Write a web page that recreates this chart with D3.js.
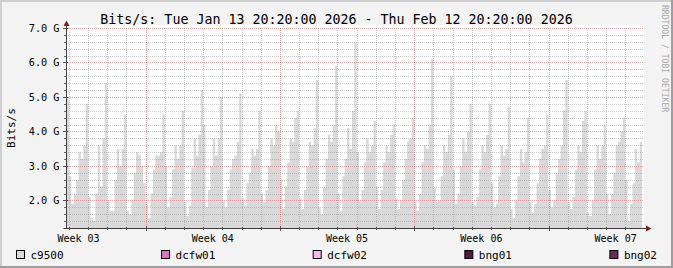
<!DOCTYPE html>
<html>
<head>
<meta charset="utf-8">
<script src="https://cdn.jsdelivr.net/npm/d3@7"></script>
<style>
  html, body { margin: 0; padding: 0; background: #f3f3f3; }
  svg { display: block; font-family: "DejaVu Sans Mono", monospace; }
</style>
</head>
<body>
<div id="chart"></div>
<script>
const WIDTH = 673
const HEIGHT = 268
const AREA_COLOR = '#d9d9d9'
const MINOR_GRID = 'rgba(128,128,128,0.4)'
const MAJOR_GRID = 'rgba(222,80,80,0.5)'
const ARROW_COLOR = '#7f1f1f'

// ---- data ----
const title = 'Bits/s: Tue Jan 13 20:20:00 2026 - Thu Feb 12 20:20:00 2026'
const rangeStart = new Date('2026-01-13T20:20:00Z')
const rangeEnd = new Date('2026-02-12T20:20:00Z')
// c9500, 3-hour averages (G bit/s) starting Jan 13 18:00
const seriesStart = new Date('2026-01-13T18:00:00Z')
const c9500 = [
  4.7, 5.0,
  2.7, 1.9, 2.2, 2.6, 3.4, 3.2, 3.6, 4.8,   // Jan 14
  2.1, 1.5, 1.4, 2.2, 3.6, 2.4, 3.8, 5.4,   // Jan 15
  2.0, 1.7, 1.7, 2.6, 3.5, 3.0, 3.5, 4.5,   // Jan 16
  1.7, 1.6, 2.0, 2.8, 3.4, 3.3, 3.0, 2.5,   // Jan 17
  1.9, 1.5, 2.2, 2.9, 3.3, 3.3, 3.4, 4.5,   // Jan 18
  3.0, 1.8, 2.1, 2.9, 3.6, 3.2, 3.6, 4.6,   // Jan 19
  1.95, 1.55, 1.85, 2.95, 3.8, 3.3, 3.9, 5.2, // Jan 20
  4.2, 1.8, 2.3, 3.0, 3.8, 3.3, 3.8, 5.0,   // Jan 21
  2.0, 1.8, 2.3, 2.9, 3.2, 3.3, 3.7, 5.1,   // Jan 22
  2.05, 1.85, 2.5, 2.8, 3.5, 3.3, 3.5, 4.6, // Jan 23
  2.2, 1.95, 2.3, 3.0, 3.8, 3.6, 4.2, 4.0,  // Jan 24
  2.6, 1.75, 2.4, 3.1, 3.8, 3.7, 4.4, 4.6,  // Jan 25
  2.05, 1.75, 2.3, 3.0, 3.7, 3.6, 4.1, 5.5, // Jan 26
  1.8, 1.6, 2.4, 3.2, 3.9, 3.7, 4.2, 5.9,   // Jan 27
  2.2, 1.7, 2.7, 3.2, 4.1, 3.5, 4.6, 6.6,   // Jan 28
  3.4, 2.0, 2.3, 3.1, 3.8, 3.4, 3.6, 4.3,   // Jan 29
  2.4, 1.75, 2.3, 3.1, 3.6, 3.4, 3.9, 4.2,  // Jan 30
  2.05, 1.75, 2.0, 2.6, 3.2, 3.7, 3.8, 4.4, // Jan 31
  1.95, 1.7, 2.2, 3.1, 3.6, 3.5, 4.2, 6.1,  // Feb 01
  2.35, 1.95, 2.0, 2.7, 3.6, 3.4, 3.9, 5.6, // Feb 02
  2.9, 1.9, 2.2, 3.0, 3.8, 3.4, 4.0, 4.8,   // Feb 03
  1.95, 1.85, 2.1, 2.9, 3.6, 3.4, 3.9, 4.8, // Feb 04
  2.5, 1.8, 1.9, 2.7, 3.6, 3.3, 3.5, 4.7,   // Feb 05
  1.75, 1.5, 2.0, 2.7, 3.5, 3.1, 3.4, 4.4,  // Feb 06
  1.95, 1.65, 1.9, 2.5, 3.2, 3.5, 3.6, 4.5, // Feb 07
  2.3, 1.8, 2.0, 2.8, 3.2, 3.6, 4.6, 5.5,   // Feb 08
  1.95, 1.75, 2.1, 2.9, 3.6, 3.4, 4.3, 4.6, // Feb 09
  1.65, 1.55, 2.0, 2.9, 3.6, 3.2, 3.6, 4.2, // Feb 10
  2.2, 1.6, 2.2, 2.8, 3.6, 3.7, 4.0, 4.4,   // Feb 11
  2.6, 1.4, 1.9, 2.5, 3.5, 3.1, 3.7         // Feb 12
]
const yMin = 1.2
const yMax = 7.0
const yMajorTicks = [2, 3, 4, 5, 6, 7]
const yTickLabels = ['2.0 G', '3.0 G', '4.0 G', '5.0 G', '6.0 G', '7.0 G']
const weekLabelTimes = ['2026-01-14T12:00:00Z', '2026-01-21T12:00:00Z', '2026-01-28T12:00:00Z',
  '2026-02-04T12:00:00Z', '2026-02-11T12:00:00Z']
const weekLabels = ['Week 03', 'Week 04', 'Week 05', 'Week 06', 'Week 07']
const legendNames = ['c9500', 'dcfw01', 'dcfw02', 'bng01', 'bng02']
const legendColors = ['#d9d9d9', '#e070c0', '#fbb8ec', '#55173f', '#6b2a5a']

// ---- setup ----
const margin = { top: 28, left: 66, bottom: 228 }
const plotRight = 641.5
const canvasRight = 644

const svg = d3.select('#chart').append('svg')
  .attr('width', WIDTH)
  .attr('height', HEIGHT)

svg.append('rect').attr('width', WIDTH).attr('height', HEIGHT).attr('fill', '#f3f3f3')
// shading border
svg.append('path').attr('d', `M1,${HEIGHT} L1,1 L${WIDTH},1`)
  .attr('fill', 'none').attr('stroke', '#cfcfcf').attr('stroke-width', 2)
svg.append('path').attr('d', `M0,${HEIGHT - 1} L${WIDTH - 1},${HEIGHT - 1} L${WIDTH - 1},0`)
  .attr('fill', 'none').attr('stroke', '#9e9e9e').attr('stroke-width', 2)

const xScale = d3.scaleUtc().domain([rangeStart, rangeEnd]).range([margin.left, plotRight])
const yScale = d3.scaleLinear().domain([yMin, yMax]).range([margin.bottom, margin.top])
const crisp = v => Math.round(v) + 0.5

// canvas
svg.append('rect')
  .attr('x', margin.left).attr('y', margin.top - 3)
  .attr('width', canvasRight - margin.left).attr('height', margin.bottom - margin.top + 3)
  .attr('fill', '#ffffff')

svg.append('clipPath').attr('id', 'plot-clip')
  .append('rect')
  .attr('x', margin.left + 0.5).attr('y', margin.top - 3)
  .attr('width', plotRight - margin.left).attr('height', margin.bottom - margin.top + 3)

// ---- area ----
const points = c9500.map((v, i) => ({ t: d3.utcHour.offset(seriesStart, 3 * i), v: v }))
points.push({ t: d3.utcHour.offset(seriesStart, 3 * c9500.length), v: c9500[c9500.length - 1] })
const area = d3.area()
  .curve(d3.curveStepAfter)
  .x(d => xScale(d.t))
  .y0(yScale(yMin))
  .y1(d => yScale(d.v))
svg.append('path')
  .datum(points)
  .attr('clip-path', 'url(#plot-clip)')
  .attr('d', area)
  .attr('fill', AREA_COLOR)

// ---- grid ----
const grid = svg.append('g').attr('id', 'grid')
const yMinor = yScale.ticks(29).filter(v => v > yMin && !yMajorTicks.some(m => Math.abs(m - v) < 1e-6))
yMinor.forEach(v => {
  const y = crisp(yScale(v))
  grid.append('line').attr('x1', margin.left).attr('x2', canvasRight).attr('y1', y).attr('y2', y)
    .attr('stroke', MINOR_GRID).attr('stroke-dasharray', '1,1')
  grid.append('line').attr('x1', margin.left - 2).attr('x2', margin.left + 1).attr('y1', y).attr('y2', y)
    .attr('stroke', '#666')
})
const days = d3.utcDay.range(rangeStart, rangeEnd).filter(d => d.getUTCDay() !== 0)
days.forEach(d => {
  const x = crisp(xScale(d))
  grid.append('line').attr('x1', x).attr('x2', x).attr('y1', margin.top).attr('y2', margin.bottom)
    .attr('stroke', MINOR_GRID).attr('stroke-dasharray', '1,1')
  grid.append('line').attr('x1', x).attr('x2', x).attr('y1', margin.bottom - 1).attr('y2', margin.bottom + 2)
    .attr('stroke', '#666')
})
yMajorTicks.forEach(v => {
  const y = crisp(yScale(v))
  grid.append('line').attr('x1', margin.left).attr('x2', canvasRight).attr('y1', y).attr('y2', y)
    .attr('stroke', MAJOR_GRID).attr('stroke-dasharray', '1,1')
  grid.append('line').attr('x1', margin.left - 3).attr('x2', margin.left + 2).attr('y1', y).attr('y2', y)
    .attr('stroke', '#555')
})
d3.utcSunday.range(rangeStart, rangeEnd).forEach(d => {
  const x = crisp(xScale(d))
  grid.append('line').attr('x1', x).attr('x2', x).attr('y1', margin.top).attr('y2', margin.bottom)
    .attr('stroke', MAJOR_GRID).attr('stroke-dasharray', '1,1')
  grid.append('line').attr('x1', x).attr('x2', x).attr('y1', margin.bottom - 2).attr('y2', margin.bottom + 3)
    .attr('stroke', '#555')
})

// ---- axes ----
const ax = crisp(margin.left)
const ay = crisp(margin.bottom)
svg.append('line').attr('x1', ax).attr('x2', ax).attr('y1', ay).attr('y2', 24)
  .attr('stroke', '#404040')
svg.append('line').attr('x1', ax - 3).attr('x2', 647).attr('y1', ay).attr('y2', ay)
  .attr('stroke', '#404040')
svg.append('path').attr('d', `M${ax - 3},26 L${ax},20.5 L${ax + 3},26 Z`).attr('fill', ARROW_COLOR)
svg.append('path').attr('d', `M646,${ay - 3} L651.5,${ay} L646,${ay + 3} Z`).attr('fill', ARROW_COLOR)

// y labels
svg.append('g').selectAll('text')
  .data(yMajorTicks)
  .join('text')
  .attr('x', 59.5)
  .attr('y', v => yScale(v) + 3.6)
  .attr('text-anchor', 'end')
  .attr('font-size', 10.2)
  .attr('fill', '#000')
  .text((v, i) => yTickLabels[i])

// x labels
svg.append('g').selectAll('text')
  .data(weekLabelTimes)
  .join('text')
  .attr('x', t => xScale(new Date(t)))
  .attr('y', 241.5)
  .attr('text-anchor', 'middle')
  .attr('font-size', 10)
  .attr('fill', '#000')
  .text((t, i) => weekLabels[i])

// title
svg.append('text')
  .attr('x', 336.5)
  .attr('y', 24)
  .attr('text-anchor', 'middle')
  .attr('font-size', 13.3)
  .attr('fill', '#000')
  .text(title)

// y axis title
svg.append('text')
  .attr('transform', 'translate(14.5,128) rotate(-90)')
  .attr('text-anchor', 'middle')
  .attr('font-size', 11)
  .attr('fill', '#000')
  .text('Bits/s')

// watermark
svg.append('text')
  .attr('transform', 'translate(661.5,5) rotate(90)')
  .attr('font-size', 8.1)
  .attr('fill', '#a8a8a8')
  .text('RRDTOOL / TOBI OETIKER')

// ---- legend ----
const legend = svg.append('g').attr('id', 'legend')
const items = legendNames.map((name, i) => {
  const g = legend.append('g')
  g.append('rect').attr('x', 0.5).attr('y', 250.5).attr('width', 8).attr('height', 8)
    .attr('fill', legendColors[i]).attr('stroke', '#000')
  const t = g.append('text').attr('x', 14.5).attr('y', 258.5)
    .attr('font-size', 11).attr('fill', '#000').text(name)
  return { g: g, w: 14.5 + t.node().getComputedTextLength() }
})
const legendLeft = 16
const legendRight = 657
const gap = (legendRight - legendLeft - d3.sum(items, d => d.w)) / (items.length - 1)
let lx = legendLeft
items.forEach(it => {
  it.g.attr('transform', `translate(${lx},0)`)
  lx += it.w + gap
})
</script>
</body>
</html>
